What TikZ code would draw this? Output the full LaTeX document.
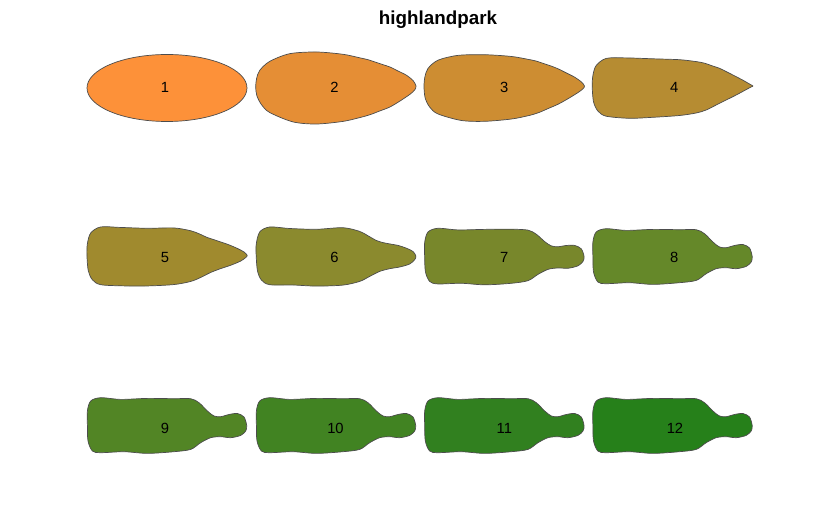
\documentclass[tikz,border=0pt]{standalone}
\usepackage{fontspec}
\setmainfont{Liberation Sans}
\usepackage{xcolor}
\usepackage{tikz}

\definecolor{shape1}{HTML}{FD9139}
\definecolor{shape2}{HTML}{E58E35}
\definecolor{shape3}{HTML}{CD8D32}
\definecolor{shape4}{HTML}{B68C32}
\definecolor{shape5}{HTML}{A08A2E}
\definecolor{shape6}{HTML}{8B8A2E}
\definecolor{shape7}{HTML}{78872B}
\definecolor{shape8}{HTML}{658829}
\definecolor{shape9}{HTML}{528525}
\definecolor{shape10}{HTML}{418322}
\definecolor{shape11}{HTML}{31801F}
\definecolor{shape12}{HTML}{26801A}

\newcommand{\blobdata}{%
80/2/80.4/2/79.9/0.4/79.7/0,
77/7.5/77/4/77/5/77/8.5,
70.4/12.8/70.4/7.8/70.4/8.3/70.4/12,
62/17/62/12.2/62/11.1/62/11,
53.7/21.1/53.7/16.4/53.7/12.6/53.7/8.8,
47/23.3/47/19.7/47/13.9/47/9.5,
40.4/25.5/40.4/21.9/40.4/16/40.4/14.5,
32/28.3/32/24.8/32/20.7/32/22.8,
23.7/30.2/23.7/26.4/23.7/25.1/23.7/26.8,
7/33.7/7/28.3/7/28.8/7/26.8,
-19.6/36/-19.6/29.2/-19.6/27.2/-19.6/27.1,
-46.3/34.3/-46.3/30.1/-46.3/28/-46.3/26.1,
-66.3/26.6/-66.3/29.6/-66.3/29.5/-66.3/27.8,
-76.3/17.6/-76.3/22.5/-76.3/24.5/-76.3/24.5,
-79.4/9.5/-79.5/13/-79.8/12/-79.6/14.5,
-80.3/1/-80.3/2/-79.8/0.4/-79.6/0,
-79.2/-7.5/-79/-13.7/-78.5/-14.6/-79/-15.5,
-74.6/-16.5/-74.6/-23/-74.6/-23.5/-74.6/-25.5,
-66.3/-24.5/-66.3/-28.2/-66.3/-28.2/-66.3/-27.2,
-43/-33.9/-43/-30.3/-43/-28.5/-43/-26.2,
-19.6/-36/-19.6/-29.3/-19.6/-29.6/-19.6/-27.9,
7/-33.4/7/-27.5/7/-28.6/7/-26.2,
23.7/-29.6/23.7/-25/23.7/-24.9/23.7/-23.9,
33.7/-26.8/33.7/-22/33.7/-19.9/33.7/-17.2,
43.7/-23/43.7/-17/43.7/-14.9/43.7/-12.2,
53.7/-19.1/53.7/-12/53.7/-12.2/53.7/-11.2,
63.7/-13.2/63.7/-7/63.7/-10.5/63.7/-12.2,
73.7/-6.5/73.7/-1.6/73.7/-7.5/73.7/-9.9,
78.7/-2/78.7/1.1/78.7/-3.2/78.7/-5.5}

\newcommand{\drawblob}[7]{%
  \gdef\blobpath{}%
  \foreach \xa/\ya/\xb/\yb/\xc/\yc/\xd/\yd in \blobdata {%
    \pgfmathsetmacro{\px}{#4*\xa+#5*\xb+#6*\xc+#7*\xd}%
    \pgfmathsetmacro{\py}{#4*\ya+#5*\yb+#6*\yc+#7*\yd}%
    \xdef\blobpath{\blobpath (\px,\py)}%
  }%
  \edef\blobdraw{\noexpand\draw[shp, fill=#1, shift={(#2,#3)}, yscale=-1] plot[smooth cycle] coordinates {\blobpath};}%
  \blobdraw
}

\begin{document}
\begin{tikzpicture}[x=0.02cm, y=-0.02cm,
  shp/.style={draw=black!70, line width=0.4pt},
  lbl/.style={inner sep=0pt, font=\fontsize{8.4}{10}\selectfont}]
\useasboundingbox (0,0) rectangle (840,513);
\node[font=\bfseries\fontsize{10.7}{12}\selectfont] (title) at (438,20) {highlandpark};
\draw[shp, fill=shape1] (167,88) ellipse [x radius=80, y radius=33.5];
\drawblob{shape2}{336}{88}{1}{0}{0}{0}
\drawblob{shape3}{504.3}{88}{0.6}{0.4}{0}{0}
\drawblob{shape4}{672.5}{88}{0}{1}{0}{0}
\drawblob{shape5}{167}{256.5}{0}{0.5}{0.5}{0}
\drawblob{shape6}{336}{256.5}{0}{0}{1}{0}
\drawblob{shape7}{504.3}{256.5}{0}{0}{0.25}{0.75}
\drawblob{shape8}{672.5}{256.5}{0}{0}{0}{1}
\drawblob{shape9}{167}{425.5}{0}{0}{0}{1}
\drawblob{shape10}{336}{425.5}{0}{0}{0}{1}
\drawblob{shape11}{504.3}{425.5}{0}{0}{0}{1}
\drawblob{shape12}{672.5}{425.5}{0}{0}{0}{1}
\node[lbl] (lab1) at (165,87) {1};
\node[lbl] (lab2) at (334.5,87) {2};
\node[lbl] (lab3) at (504.3,87) {3};
\node[lbl] (lab4) at (674.3,87) {4};
\node[lbl] (lab5) at (165,257) {5};
\node[lbl] (lab6) at (334.5,257) {6};
\node[lbl] (lab7) at (504.3,257) {7};
\node[lbl] (lab8) at (674.3,257) {8};
\node[lbl] (lab9) at (165,428) {9};
\node[lbl] (lab10) at (335.5,428) {10};
\node[lbl] (lab11) at (504.3,428) {11};
\node[lbl] (lab12) at (675,428) {12};
\end{tikzpicture}
\end{document}
